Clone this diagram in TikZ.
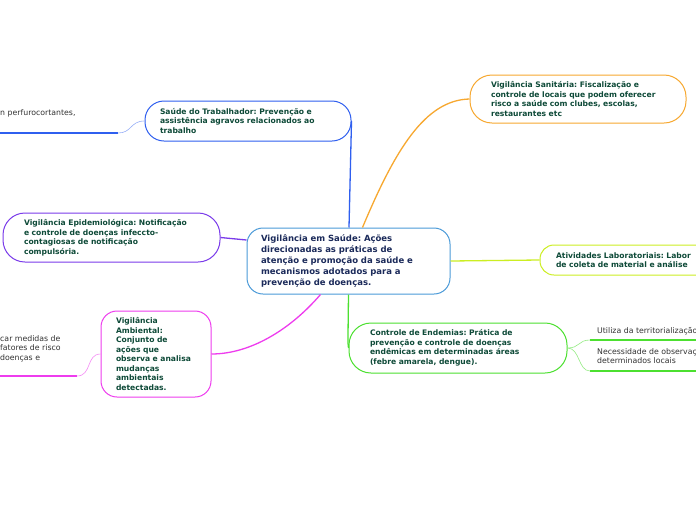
\documentclass[tikz,border=0pt]{standalone}
\usepackage{fontspec}
\setmainfont{DejaVu Sans}
\setsansfont{DejaVu Sans}
\frenchspacing
\definecolor{cblue}{HTML}{2F5FEF}
\definecolor{ccentral}{HTML}{4A9AD8}
\definecolor{corange}{HTML}{F7A830}
\definecolor{cpurple}{HTML}{7A3BEA}
\definecolor{cmagenta}{HTML}{EE3CEE}
\definecolor{clime}{HTML}{CCEE22}
\definecolor{cgreen}{HTML}{4CE030}
\definecolor{tgreen}{HTML}{0E4A38}
\definecolor{tnavy}{HTML}{1B2A5A}
\definecolor{tgray}{HTML}{333333}
\tikzset{
  topic/.style={draw, fill=white, line width=1pt, rounded corners=18pt, align=left,
    font=\fontsize{7.6}{9.5}\selectfont\bfseries, text=tgreen, inner ysep=0pt},
  central/.style={draw=ccentral, fill=white, line width=1pt, rounded corners=16pt, align=left,
    font=\fontsize{8.5}{11}\selectfont\bfseries, text=tnavy, inner ysep=0pt},
  leaf/.style={align=left, font=\fontsize{7.8}{9.5}\selectfont, text=tgray, inner sep=0pt, anchor=north west},
  conn/.style={line width=1.3pt},
  thin/.style={line width=0.6pt},
}
\begin{document}
\begin{tikzpicture}[x=1pt,y=-1pt]
\useasboundingbox (0,0) rectangle (696,520);
\clip (0,0) rectangle (696,520);
\fill[white] (0,0) rectangle (696,520);

% nodes
\node[central, minimum width=203pt, minimum height=66pt, text width=175pt, inner xsep=14pt] (c) at (348.5,261)
 {Vigilância em Saúde: Ações\\direcionadas as práticas de\\atenção e promoção da saúde e\\mecanismos adotados para a\\prevenção de doenças.};

\node[topic, draw=cblue, minimum width=206pt, minimum height=40pt, text width=176pt, inner xsep=15pt, rounded corners=19pt] (st) at (248,121)
 {Saúde do Trabalhador: Prevenção e\\assistência agravos relacionados ao\\trabalho};

\node[topic, draw=cpurple, minimum width=217pt, minimum height=49pt, text width=175pt, inner xsep=21pt, rounded corners=22pt] (ve) at (111.5,237.5)
 {Vigilância Epidemiológica: Notificação\\e controle de doenças infeccto-\\contagiosas de notificação\\compulsória.};

\node[topic, draw=cmagenta, minimum width=110pt, minimum height=86pt, text width=80pt, inner xsep=15pt, rounded corners=16pt] (va) at (156,354)
 {Vigilância\\Ambiental:\\Conjunto de\\ações que\\observa e analisa\\mudanças\\ambientais\\detectadas.};

\node[topic, draw=corange, minimum width=216pt, minimum height=48pt, text width=174pt, inner xsep=21pt, rounded corners=22pt] (vs) at (578,99)
 {Vigilância Sanitária: Fiscalização e\\controle de locais que podem oferecer\\risco a saúde com clubes, escolas,\\restaurantes etc};

\node[topic, draw=clime, minimum width=220pt, minimum height=30pt, text width=188pt, inner xsep=16pt, rounded corners=14pt] (al) at (650,260)
 {Atividades Laboratoriais: Labor\\de coleta de material e análise};

\node[topic, draw=cgreen, minimum width=218pt, minimum height=50pt, text width=176pt, inner xsep=21pt, rounded corners=22pt] (ce) at (458,348)
 {Controle de Endemias: Prática de\\prevenção e controle de doenças\\endêmicas em determinadas áreas\\(febre amarela, dengue).};

% leaves
\node[leaf] (l1) at (0,109) {n perfurocortantes,};
\coordinate (l1a) at (0,133);
\coordinate (l1b) at (118,133);

\node[leaf] (l2) at (0,335) {car medidas de\\fatores de risco\\ doenças e};
\coordinate (l2a) at (0,376);
\coordinate (l2b) at (77,376);

\node[leaf] (l3) at (597,327) {Utiliza da territorialização};
\coordinate (l3a) at (590,340);
\coordinate (l3b) at (700,340);

\node[leaf] (l4) at (597,348) {Necessidade de observação\\determinados locais};
\coordinate (l4a) at (590,371);
\coordinate (l4b) at (700,371);

% main connectors
\draw[conn, cblue] ([xshift=0.5pt]c.north) -- (st.east);
\draw[conn, corange] ([xshift=14pt]c.north) .. controls (395,150) and (425,100) .. (vs.west);
\draw[conn, cpurple] (c.west |- 0,240) -- (ve.east);
\draw[conn, cmagenta] ([xshift=-28pt]c.south) .. controls (290,330) and (250,354) .. (va.east);
\draw[conn, clime] (c.east) -- (al.west);
\draw[conn, cgreen] (c.south) -- (348,336) .. controls (348,344) .. (ce.west);

% leaf connectors
\draw[line width=1.8pt, cblue] (l1a) -- (l1b);
\draw[thin, cblue!50] (l1b) .. controls (132,133) and (130,121) .. (st.west);
\draw[line width=1.8pt, cmagenta] (l2a) -- (l2b);
\draw[thin, cmagenta!60] (l2b) .. controls (92,376) and (86,354) .. (va.west);
\draw[line width=1.8pt, cgreen] (l3a) -- (l3b);
\draw[thin, cgreen!60] (ce.east) .. controls (580,348) and (578,340) .. (l3a);
\draw[line width=1.8pt, cgreen] (l4a) -- (l4b);
\draw[thin, cgreen!60] (ce.east) .. controls (580,348) and (578,371) .. (l4a);
\end{tikzpicture}
\end{document}
